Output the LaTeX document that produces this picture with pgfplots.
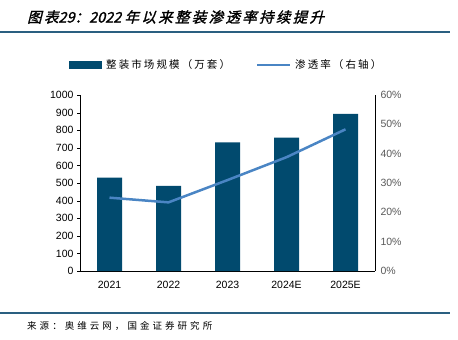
\documentclass[border=0pt]{standalone}
\usepackage{pgfplots}
\pgfplotsset{compat=1.18}
\usepackage{fontspec}
\setmainfont{Liberation Sans}
\newfontfamily\cjk[LetterSpace=20]{Noto Sans CJK SC}
\newfontfamily\cjksrc[LetterSpace=32]{Noto Sans CJK SC}
\newfontfamily\cjkit[FakeSlant=0.25,FakeBold=1.5,LetterSpace=16]{Noto Sans CJK SC}
\newfontfamily\cjkitd[FakeSlant=0.25,FakeBold=1.5]{Noto Sans CJK SC}
\definecolor{barblue}{HTML}{014A6E}
\definecolor{lineblue}{HTML}{4A85C4}
\definecolor{rulecol}{HTML}{2A5F80}
\definecolor{graytxt}{HTML}{595959}
\begin{document}
\begin{tikzpicture}[x=1bp,y=1bp]
\useasboundingbox (0,0) rectangle (458,339);
% title
\node[anchor=west,inner sep=0] at (27,322) {\fontsize{14.5bp}{16bp}\selectfont\cjkit 图表{\cjkitd 29}：{\cjkitd 2022 }年以来整装渗透率持续提升};
\draw[rulecol,line width=1.2bp] (0,307) -- (450,307);
\draw[rulecol,line width=1.2bp] (0,26) -- (450,26);
\node[anchor=west,inner sep=0] at (27,13) {\cjksrc\fontsize{9.5bp}{11bp}\selectfont 来源：奥维云网，国金证券研究所};
% legend
\fill[barblue] (69,270) rectangle (102,278);
\node[anchor=west,inner sep=0] at (106,274) {\cjk\fontsize{10.5bp}{12bp}\selectfont 整装市场规模（万套）};
\draw[lineblue,line width=2.5bp] (257,274) -- (290,274);
\node[anchor=west,inner sep=0] at (295,274) {\cjk\fontsize{10.5bp}{12bp}\selectfont 渗透率（右轴）};
\begin{axis}[
  at={(80bp,68bp)}, anchor=south west,
  scale only axis, width=295bp, height=176bp,
  xmin=-0.5, xmax=4.5, ymin=0, ymax=1000,
  xtick={0,1,2,3,4}, xticklabels={2021,2022,2023,2024E,2025E},
  extra x ticks={0.5,1.5,2.5,3.5}, extra x tick labels={},
  extra x tick style={major tick length=3bp, tick style={black}},
  ytick={0,100,...,1000},
  axis y line*=left, axis x line*=bottom,
  axis line style={black, line width=0.6bp},
  x axis line style={-}, y axis line style={-},
  major x tick style={draw=none},
  ytick style={black},
  major tick length=3bp,
  tick align=outside,
  ticklabel style={font=\fontsize{10.5bp}{12bp}\selectfont},
  /pgf/number format/assume math mode=true,
  /pgf/number format/1000 sep={},
  xticklabel style={yshift=-4bp},
]
\addplot[ybar, bar width=25bp, fill=barblue, draw=none] coordinates {(0,530) (1,483) (2,731) (3,758) (4,893)};
\end{axis}
\begin{axis}[
  at={(80bp,68bp)}, anchor=south west,
  scale only axis, width=295bp, height=176bp,
  xmin=-0.5, xmax=4.5, ymin=0, ymax=60,
  axis y line*=right, axis x line=none,
  axis line style={black, line width=0.6bp, -},
  ytick={0,10,...,60},
  yticklabel={\pgfmathprintnumber{\tick}\%},
  ytick style={draw=none},
  ticklabel style={font=\fontsize{10.5bp}{12bp}\selectfont, text=graytxt},
  /pgf/number format/assume math mode=true,
  yticklabel style={xshift=2bp},
]
\addplot[lineblue, line width=2.5bp, mark=none] coordinates {(0,25.0) (1,23.4) (2,31.0) (3,38.8) (4,48.3)};
\end{axis}
\end{tikzpicture}
\end{document}
